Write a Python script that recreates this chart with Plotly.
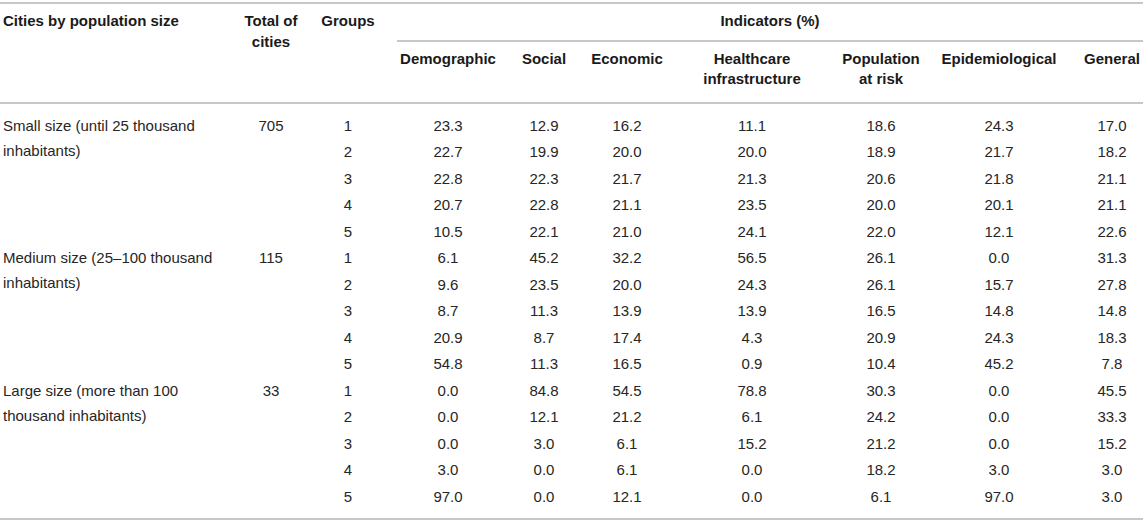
import plotly.graph_objects as go

# ---- table content ----
city_sizes = [["Small size (until 25 thousand", "inhabitants)"],
              ["Medium size (25\u2013100 thousand", "inhabitants)"],
              ["Large size (more than 100", "thousand inhabitants)"]]
total_cities = ["705", "115", "33"]
groups = ["1", "2", "3", "4", "5"]

indicator_names = [["Demographic"], ["Social"], ["Economic"],
                   ["Healthcare", "infrastructure"], ["Population", "at risk"],
                   ["Epidemiological"], ["General"]]

demographic = [23.3, 22.7, 22.8, 20.7, 10.5, 6.1, 9.6, 8.7, 20.9, 54.8, 0.0, 0.0, 0.0, 3.0, 97.0]
social = [12.9, 19.9, 22.3, 22.8, 22.1, 45.2, 23.5, 11.3, 8.7, 11.3, 84.8, 12.1, 3.0, 0.0, 0.0]
economic = [16.2, 20.0, 21.7, 21.1, 21.0, 32.2, 20.0, 13.9, 17.4, 16.5, 54.5, 21.2, 6.1, 6.1, 12.1]
healthcare = [11.1, 20.0, 21.3, 23.5, 24.1, 56.5, 24.3, 13.9, 4.3, 0.9, 78.8, 6.1, 15.2, 0.0, 0.0]
pop_at_risk = [18.6, 18.9, 20.6, 20.0, 22.0, 26.1, 26.1, 16.5, 20.9, 10.4, 30.3, 24.2, 21.2, 18.2, 6.1]
epidemiological = [24.3, 21.7, 21.8, 20.1, 12.1, 0.0, 15.7, 14.8, 24.3, 45.2, 0.0, 0.0, 0.0, 3.0, 97.0]
general = [17.0, 18.2, 21.1, 21.1, 22.6, 31.3, 27.8, 14.8, 18.3, 7.8, 45.5, 33.3, 15.2, 3.0, 3.0]

indicator_values = [demographic, social, economic, healthcare, pop_at_risk, epidemiological, general]

# ---- layout (pixel units on a 1143 x 523 canvas) ----
W, H = 1143, 523
FONT = "Liberation Sans, Arial, sans-serif"
BODY = "#262626"
HEAD = "#1a1a1a"
RULE = "#b5b5b5"
FS = 15

x_city = 3
x_total = 271
x_group = 348
x_ind = [448, 544, 627, 752, 881, 999, 1112]
ind_left = 397

y_top_rule = 3
y_head1 = 22
y_head2 = 43
y_ind_rule = 41
y_sub1 = 60
y_sub2 = 80
y_head_rule = 103
y_row0 = 127
row_h = 26.5
y_bottom_rule = 519

fig = go.Figure()


def add_text(xs, ys, texts, pos, bold=False):
    fig.add_trace(go.Scatter(
        x=xs, y=ys, text=texts, mode="text", textposition=pos,
        textfont=dict(family=FONT, size=FS, color=HEAD if bold else BODY,
                      weight="bold" if bold else "normal"),
        hoverinfo="skip", showlegend=False))


# header
add_text([x_city], [y_head1], ["Cities by population size"], "middle right", bold=True)
add_text([x_total, x_total], [y_head1, y_head2], ["Total of", "cities"], "middle center", bold=True)
add_text([x_group], [y_head1], ["Groups"], "middle center", bold=True)
add_text([(ind_left + W) / 2], [y_head1], ["Indicators (%)"], "middle center", bold=True)
hx, hy, ht = [], [], []
for xc, lines in zip(x_ind, indicator_names):
    for k, ln in enumerate(lines):
        hx.append(xc)
        hy.append(y_sub1 + k * (y_sub2 - y_sub1))
        ht.append(ln)
add_text(hx, hy, ht, "middle center", bold=True)

# body
n_groups = len(groups)
cx, cy, ct = [], [], []
tx, ty, tt = [], [], []
gx, gy, gt = [], [], []
for b, (lines, tot) in enumerate(zip(city_sizes, total_cities)):
    yb = y_row0 + b * n_groups * row_h
    for k, ln in enumerate(lines):
        cx.append(x_city)
        cy.append(yb + k * 25)
        ct.append(ln)
    tx.append(x_total)
    ty.append(yb)
    tt.append(tot)
    for g, lab in enumerate(groups):
        gx.append(x_group)
        gy.append(yb + g * row_h)
        gt.append(lab)
add_text(cx, cy, ct, "middle right")
add_text(tx, ty, tt, "middle center")
add_text(gx, gy, gt, "middle center")

for xc, vals in zip(x_ind, indicator_values):
    ys = [y_row0 + i * row_h for i in range(len(vals))]
    add_text([xc] * len(vals), ys, [f"{v:.1f}" for v in vals], "middle center")

# rules
for x0, y in [(0, y_top_rule), (ind_left, y_ind_rule), (0, y_head_rule), (0, y_bottom_rule)]:
    fig.add_shape(type="line", x0=x0, x1=W, y0=y, y1=y, xref="x", yref="y",
                  line=dict(color=RULE, width=1.5))

fig.update_layout(
    width=W, height=H,
    margin=dict(l=0, r=0, t=0, b=0),
    paper_bgcolor="white", plot_bgcolor="white",
    xaxis=dict(range=[0, W], visible=False, fixedrange=True),
    yaxis=dict(range=[H, 0], visible=False, fixedrange=True),
)

# page body has a default 8px margin; drop it so the table fills the window
fig.write_html("out.html",
               config={"displayModeBar": False},
               post_script="document.body.style.margin='0';document.body.style.overflow='hidden';")
